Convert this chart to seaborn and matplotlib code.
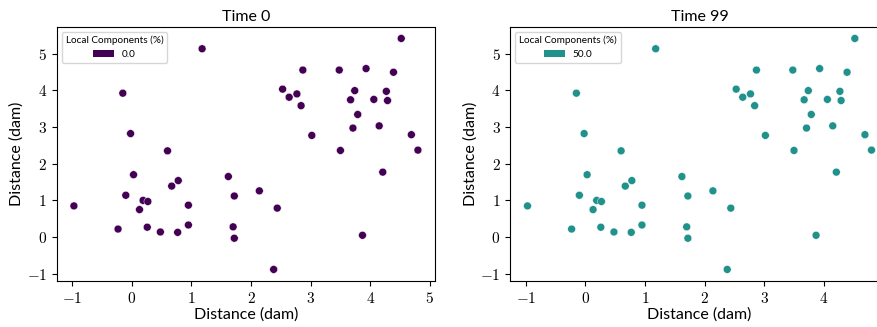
import matplotlib
matplotlib.use("Agg")
import matplotlib.pyplot as plt
import seaborn as sns
import pandas as pd
from matplotlib.patches import Patch
from matplotlib.ticker import FuncFormatter

# ---- data ----
x_vals = [-0.97, -0.15, -0.02, 0.03, -0.10, -0.23, 0.19, 0.27, 0.13, 0.26,
          0.48, 0.77, 0.95, 0.95, 0.67, 0.78, 0.60, 1.18, 1.62, 1.72,
          1.70, 1.72, 2.14, 2.44, 2.38, 2.53, 2.64, 2.77, 2.84, 2.87,
          3.02, 3.48, 3.50, 3.67, 3.74, 3.71, 3.79, 3.93, 3.87, 4.06,
          4.15, 4.21, 4.27, 4.29, 4.39, 4.52, 4.69, 4.80]
y_vals = [0.85, 3.92, 2.82, 1.70, 1.14, 0.22, 1.00, 0.97, 0.75, 0.27,
          0.14, 0.13, 0.33, 0.87, 1.39, 1.54, 2.35, 5.13, 1.65, 1.12,
          0.28, -0.03, 1.26, 0.79, -0.88, 4.03, 3.81, 3.90, 3.58, 4.55,
          2.77, 4.55, 2.36, 3.74, 3.99, 2.97, 3.34, 4.59, 0.05, 3.75,
          3.03, 1.77, 3.97, 3.72, 4.49, 5.41, 2.79, 2.37]
titles = ["Time 0", "Time 99"]
local_pct = [0.0, 50.0]
y_ticks = [-1, 0, 1, 2, 3, 4, 5]
x_ticks_left = [-1, 0, 1, 2, 3, 4, 5]
x_ticks_right = [-1, 0, 1, 2, 3, 4]
legend_title = "Local Components (%)"
axis_label = "Distance (dam)"

plt.rcParams['mathtext.fontset'] = 'cm'
plt.rcParams['font.family'] = ['Lato', 'DejaVu Sans']

fig = plt.figure(figsize=(8.78, 3.27), dpi=100)
positions = [[0.0646, 0.1407, 0.431, 0.777], [0.5812, 0.1407, 0.431, 0.777]]
xtick_sets = [x_ticks_left, x_ticks_right]
cmap = plt.get_cmap('viridis')
cm_fmt = FuncFormatter(lambda v, p: r"$%d$" % round(v))

for pos, title, pct, xt in zip(positions, titles, local_pct, xtick_sets):
    ax = fig.add_axes(pos)
    df = pd.DataFrame({'x': x_vals, 'y': y_vals, 'pct': [pct] * len(x_vals)})
    sns.scatterplot(data=df, x='x', y='y', hue='pct', palette='viridis',
                    hue_norm=(0, 100), s=32, edgecolor='white', linewidth=0.3,
                    ax=ax, legend=False)
    ax.set_xticks(xt)
    ax.set_yticks(y_ticks)
    ax.xaxis.set_major_formatter(cm_fmt)
    ax.yaxis.set_major_formatter(cm_fmt)
    ax.set_title(title, fontsize=11.5, pad=4)
    ax.set_xlabel(axis_label, fontsize=11.5, labelpad=1)
    ax.set_ylabel(axis_label, fontsize=11.5, labelpad=2)
    ax.tick_params(labelsize=11)
    ax.legend(handles=[Patch(facecolor=cmap(pct / 100), label=f"{pct}")],
              title=legend_title, loc='upper left', fontsize=7.2,
              title_fontsize=7.2, handlelength=2.1, handleheight=0.7)

fig.savefig("out.png", dpi=100)
